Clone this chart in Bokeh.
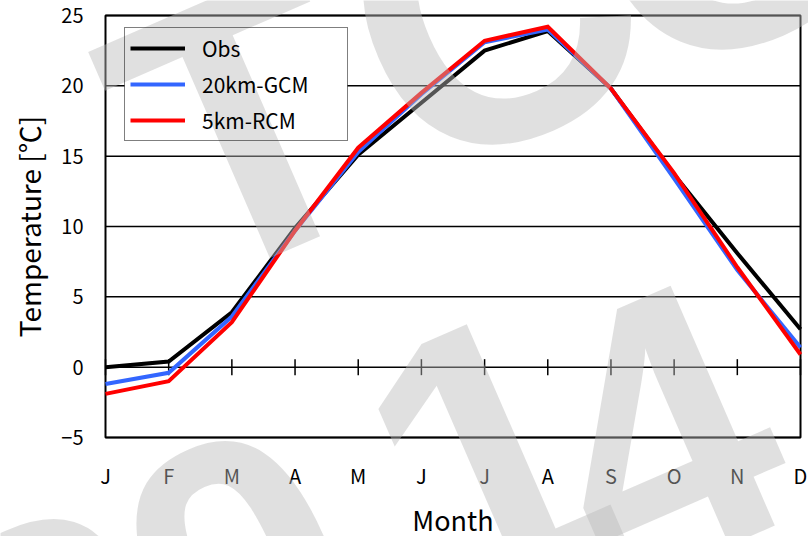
import math
from bokeh.plotting import figure
from bokeh.models import Range1d, Legend, LegendItem, Label
from bokeh.core.properties import value
from bokeh.embed import file_html
from bokeh.resources import INLINE

months = ["J", "F", "M", "A", "M", "J", "J", "A", "S", "O", "N", "D"]
month_idx = list(range(12))
obs = [0.0, 0.4, 3.9, 9.9, 15.1, 18.8, 22.5, 23.9, 19.8, 13.7, 8.1, 2.7]
gcm = [-1.2, -0.4, 3.6, 9.7, 15.3, 19.4, 23.1, 24.0, 19.8, 13.4, 6.9, 1.4]
rcm = [-1.9, -1.0, 3.2, 9.7, 15.6, 19.5, 23.2, 24.2, 19.8, 13.8, 7.1, 0.9]
y_ticks = [-5, 0, 5, 10, 15, 20, 25]
y_tick_labels = ["\u22125", "0", "5", "10", "15", "20", "25"]
series_names = ["Obs", "20km-GCM", "5km-RCM"]
series_colors = ["#000000", "#3366FF", "#FF0000"]
x_title = "Month"
y_title = "Temperature [\u2103]"

FONT = "Noto Sans CJK JP"

# layout of the plotting box inside the 808x536 canvas (pixels)
W, H = 808, 536
FL, FR, FT, FB = 105, 800, 15, 437
X_MIN, X_MAX = 0, 11
Y_MIN, Y_MAX = -5, 25
PX_X = (FR - FL) / (X_MAX - X_MIN)
PX_Y = (FB - FT) / (Y_MAX - Y_MIN)


def sx2x(sx):
    return X_MIN + (sx - FL) / PX_X


def sy2y(sy):
    return Y_MAX - (sy - FT) / PX_Y


p = figure(width=W, height=H, output_backend="svg", toolbar_location=None,
           x_range=Range1d(sx2x(0), sx2x(W)), y_range=Range1d(sy2y(H), sy2y(0)),
           min_border=0, x_axis_type=None, y_axis_type=None)
p.background_fill_color = "white"
p.border_fill_color = "white"
p.outline_line_color = None

# horizontal grid lines (incl. the zero line)
p.segment(x0=[X_MIN] * len(y_ticks), y0=y_ticks, x1=[X_MAX] * len(y_ticks), y1=y_ticks,
          line_color="black", line_width=1.5, level="image")
# plot frame
p.quad(left=[X_MIN], right=[X_MAX], bottom=[Y_MIN], top=[Y_MAX],
       fill_color=None, line_color="black", line_width=2, level="image")
# opaque backing of the legend box (legend itself is transparent)
LB = (124, 347, 28, 141)  # left, right, top, bottom in pixels
p.quad(left=[sx2x(LB[0])], right=[sx2x(LB[1])], top=[sy2y(LB[2])], bottom=[sy2y(LB[3])],
       fill_color="white", line_color=None, level="image")
# month tick marks crossing the zero line
p.scatter(x=month_idx, y=[0] * len(month_idx), marker="dash", size=16, angle=math.pi / 2,
          line_color="black", line_width=1.5)

# tick labels
p.text(x=[X_MIN] * len(y_ticks), y=y_ticks, text=y_tick_labels,
       x_offset=-22, text_align="right", text_baseline="middle",
       text_font=value(FONT), text_font_size="20px", text_color="black")
p.text(x=month_idx, y=[sy2y(FB + 38)] * len(month_idx), text=months,
       text_align="center", text_baseline="middle",
       text_font=value(FONT), text_font_size="20px", text_color="black")
# axis titles
p.text(x=[(X_MIN + X_MAX) / 2], y=[sy2y(FB + 82)], text=[x_title],
       text_align="center", text_baseline="middle",
       text_font=value(FONT), text_font_size="27px", text_color="black")
p.text(x=[sx2x(FL - 77)], y=[(Y_MIN + Y_MAX) / 2], text=[y_title], angle=math.pi / 2,
       text_align="center", text_baseline="middle",
       text_font=value(FONT), text_font_size="28px", text_color="black")

renderers = []
for vals, color in zip([obs, gcm, rcm], series_colors):
    r = p.line(month_idx, vals, line_color=color, line_width=4, line_join="miter")
    renderers.append(r)

legend = Legend(items=[LegendItem(label=n, renderers=[r]) for n, r in zip(series_names, renderers)],
                location=(LB[0], H - LB[3]))
legend.level = "underlay"
legend.margin = 0
legend.padding = 5
legend.spacing = 6
legend.glyph_width = 55
legend.glyph_height = 30
legend.label_height = 30
legend.label_width = 140
legend.label_standoff = 17
legend.label_text_font = FONT
legend.label_text_font_size = "21px"
legend.label_text_color = "black"
legend.border_line_color = "black"
legend.border_line_width = 1.5
legend.background_fill_color = None
legend.background_fill_alpha = 0.0
p.add_layout(legend, "center")

# watermark (decoration, not data): letter, centre in pixels
wm_color = "#bbbbbb"
wm_letters = [("T", 242, 126), ("C", 490, 10), ("C", 720, -85),
              ("2", 60, 650), ("0", 240, 570), ("1", 485, 455), ("4", 658, 430)]
for txt, sx, sy in wm_letters:
    lab = Label(x=sx2x(sx), y=sy2y(sy), text=txt, angle=0.41, angle_units="rad",
                text_font="Liberation Sans", text_font_style="bold",
                text_font_size="380px", text_color=wm_color, text_alpha=0.45,
                text_align="center", text_baseline="alphabetic", level="overlay")
    p.add_layout(lab)

open("out.html", "w").write(file_html(p, INLINE))
